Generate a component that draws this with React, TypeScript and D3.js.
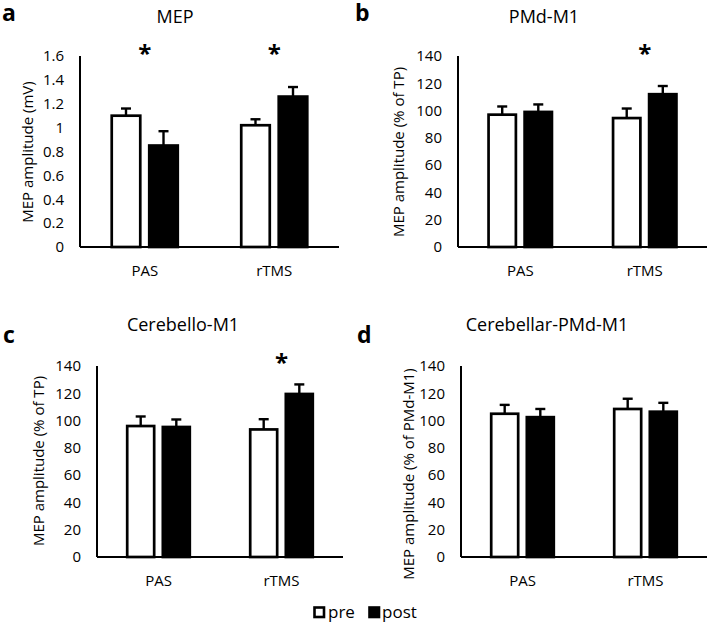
import React from 'react';
import * as d3 from 'd3';

const categories = ['PAS', 'rTMS'];
const conditions = ['pre', 'post'];

const mepPre = [1.1, 1.02];
const mepPreErr = [0.06, 0.05];
const mepPost = [0.85, 1.26];
const mepPostErr = [0.12, 0.08];
const mepTicks = [0, 0.2, 0.4, 0.6, 0.8, 1, 1.2, 1.4, 1.6];
const mepSig = [true, true];

const pmdPre = [97, 94.5];
const pmdPreErr = [6, 7];
const pmdPost = [99, 112];
const pmdPostErr = [5.5, 6];
const pctTicks = [0, 20, 40, 60, 80, 100, 120, 140];
const pmdSig = [false, true];

const cbPre = [96, 93.5];
const cbPreErr = [7, 7.5];
const cbPost = [95.3, 119.5];
const cbPostErr = [5.5, 7];
const cbSig = [false, true];

const cpPre = [105, 108.5];
const cpPreErr = [6.5, 7.5];
const cpPost = [102.5, 106.5];
const cpPostErr = [6, 6.5];
const cpSig = [false, false];

const FONT = '"Open Sans", Lato, sans-serif';

const panels = [
  { letter: 'a', title: 'MEP', yLabel: 'MEP amplitude (mV)', pre: mepPre, preErr: mepPreErr, post: mepPost, postErr: mepPostErr, ticks: mepTicks, sig: mepSig,
    x0: 80, x1: 339, yTop: 56, yBot: 247, letterX: 2, letterY: 21, titleX: 175, titleY: 23, labelX: 27, labelY: 152, starY: 62 },
  { letter: 'b', title: 'PMd-M1', yLabel: 'MEP amplitude (% of TP)', pre: pmdPre, preErr: pmdPreErr, post: pmdPost, postErr: pmdPostErr, ticks: pctTicks, sig: pmdSig,
    x0: 458, x1: 707, yTop: 56, yBot: 247, letterX: 355, letterY: 21, titleX: 544, titleY: 23, labelX: 398, labelY: 152, starY: 62 },
  { letter: 'c', title: 'Cerebello-M1', yLabel: 'MEP amplitude (% of TP)', pre: cbPre, preErr: cbPreErr, post: cbPost, postErr: cbPostErr, ticks: pctTicks, sig: cbSig,
    x0: 97, x1: 343, yTop: 366, yBot: 557, letterX: 3, letterY: 343, titleX: 183, titleY: 331, labelX: 38, labelY: 461, starY: 371 },
  { letter: 'd', title: 'Cerebellar-PMd-M1', yLabel: 'MEP amplitude (% of PMd-M1)', pre: cpPre, preErr: cpPreErr, post: cpPost, postErr: cpPostErr, ticks: pctTicks, sig: cpSig,
    x0: 461, x1: 707, yTop: 366, yBot: 557, letterX: 357, letterY: 343, titleX: 547, titleY: 331, labelX: 408, labelY: 474, starY: 371 },
];

function Panel({ p }: { p: any }) {
  const max = p.ticks[p.ticks.length - 1];
  const y = d3.scaleLinear().domain([0, max]).range([p.yBot, p.yTop]);
  const x = d3.scalePoint<string>().domain(categories).range([p.x0, p.x1]).padding(0.5);
  const step = x.step();
  const half = step * 0.265;
  const sub = d3.scaleBand<string>().domain(conditions).range([-half, half]).paddingInner(0.17);
  const bw = sub.bandwidth();
  const fmt = (v: number) => d3.format('~g')(v);
  const bars: any[] = [];
  categories.forEach((c, i) => {
    conditions.forEach((cond) => {
      const v = cond === 'pre' ? p.pre[i] : p.post[i];
      const e = cond === 'pre' ? p.preErr[i] : p.postErr[i];
      bars.push({ c, cond, v, e, cx: (x(c) as number) + (sub(cond) as number) });
    });
  });
  return (
    <g>
      <text x={p.letterX} y={p.letterY} fontFamily={FONT} fontWeight="bold" fontSize={23}>{p.letter}</text>
      <text x={p.titleX} y={p.titleY} fontFamily={FONT} fontSize={18} textAnchor="middle">{p.title}</text>
      <text transform={`translate(${p.labelX},${p.labelY}) rotate(-90)`} fontFamily={FONT} fontSize={15} textAnchor="middle" dominantBaseline="central">{p.yLabel}</text>
      {p.ticks.map((t: number) => (
        <text key={t} x={p.x0 - 16} y={y(t) + 5.3} fontFamily={FONT} fontSize={15} textAnchor="end">{fmt(t)}</text>
      ))}
      {bars.map((b, k) => (
        <g key={k}>
          <line x1={b.cx + bw / 2} x2={b.cx + bw / 2} y1={y(b.v)} y2={y(b.v + b.e)} stroke="#000" strokeWidth={2.4} />
          <line x1={b.cx + bw / 2 - 5} x2={b.cx + bw / 2 + 5} y1={y(b.v + b.e)} y2={y(b.v + b.e)} stroke="#000" strokeWidth={2.4} />
          <rect x={b.cx + 1.3} y={y(b.v)} width={bw - 2.6} height={p.yBot - y(b.v)} fill={b.cond === 'pre' ? '#fff' : '#000'} stroke="#000" strokeWidth={2.7} />
        </g>
      ))}
      <line x1={p.x0} x2={p.x0} y1={p.yTop} y2={p.yBot} stroke="#000" strokeWidth={2} />
      <line x1={p.x0} x2={p.x1} y1={p.yBot} y2={p.yBot} stroke="#000" strokeWidth={2} />
      {categories.map((c) => (
        <text key={c} x={x(c)} y={p.yBot + 28.5} fontFamily={FONT} fontSize={15} textAnchor="middle">{c}</text>
      ))}
      {categories.map((c, i) => p.sig[i] ? (
        <text key={'s' + c} x={x(c)} y={p.starY} fontFamily={FONT} fontWeight="bold" fontSize={24} textAnchor="middle">*</text>
      ) : null)}
    </g>
  );
}

export default function App() {
  return (
    <svg width={708} height={622} style={{ position: 'absolute', left: 0, top: 0, background: '#fff' }}>
      <rect x={0} y={0} width={708} height={622} fill="#fff" />
      {panels.map((p) => <Panel key={p.letter} p={p} />)}
      <g>
        <rect x={314.5} y={607.5} width={9.5} height={9.5} fill="#fff" stroke="#000" strokeWidth={2.6} />
        <text x={328} y={618} fontFamily={FONT} fontSize={17}>{conditions[0]}</text>
        <rect x={369.5} y={607.5} width={9.5} height={9.5} fill="#000" stroke="#000" strokeWidth={2.6} />
        <text x={382} y={618} fontFamily={FONT} fontSize={17}>{conditions[1]}</text>
      </g>
    </svg>
  );
}
